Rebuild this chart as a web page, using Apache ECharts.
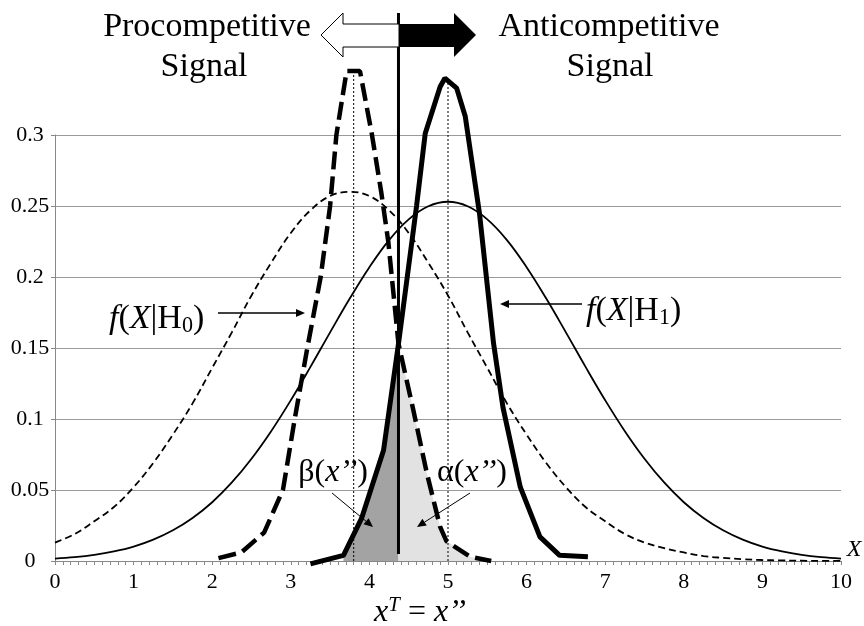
<!DOCTYPE html>
<html>
<head>
<meta charset="utf-8">
<script src="https://cdn.jsdelivr.net/npm/echarts@6/dist/echarts.min.js"></script>
<style>
html, body { margin: 0; padding: 0; background: #fff; }
#chart { width: 864px; height: 626px; }
</style>
</head>
<body>
<div id="chart"></div>
<script>
// tick labels
var yTickLabels = ['0', '0.05', '0.1', '0.15', '0.2', '0.25', '0.3'];
var xTickLabels = ['0', '1', '2', '3', '4', '5', '6', '7', '8', '9', '10'];

// wide curves (thin), sampled every 0.25
var wideX = [0, 0.25, 0.5, 0.75, 1, 1.25, 1.5, 1.75, 2, 2.25, 2.5, 2.75, 3, 3.25, 3.5, 3.75, 4, 4.25, 4.5, 4.75,
             5, 5.25, 5.5, 5.75, 6, 6.25, 6.5, 6.75, 7, 7.25, 7.5, 7.75, 8, 8.25, 8.5, 8.75, 9, 9.25, 9.5, 9.75, 10];
var wideH0 = [0.013, 0.019, 0.028, 0.038, 0.052, 0.069, 0.089, 0.111, 0.136, 0.161, 0.187, 0.210, 0.231, 0.247, 0.257, 0.260,
              0.257, 0.247, 0.231, 0.210, 0.187, 0.161, 0.136, 0.111, 0.089, 0.069, 0.052, 0.038, 0.028, 0.019, 0.013,
              0.009, 0.006, 0.0035, 0.0022, 0.0013, 0.0007, 0.0004, 0.0002, 0.0001, 0.0001];
var wideH1 = [0.0017, 0.0027, 0.0043, 0.0067, 0.0101, 0.015, 0.0216, 0.0303, 0.0414, 0.0553, 0.072, 0.0914, 0.1132, 0.1367,
              0.161, 0.1848, 0.2069, 0.226, 0.2406, 0.2498, 0.253, 0.2498, 0.2406, 0.226, 0.2069, 0.1848, 0.161, 0.1367,
              0.1132, 0.0914, 0.072, 0.0553, 0.0414, 0.0303, 0.0216, 0.015, 0.0101, 0.0067, 0.0043, 0.0027, 0.0017];

// narrow curves (thick), [x, y]
var narrowH0 = [[2.08, 0.002], [2.37, 0.006], [2.66, 0.02], [2.9, 0.05], [3.05, 0.1], [3.21, 0.15], [3.38, 0.2],
                [3.5, 0.25], [3.58, 0.3], [3.71, 0.345], [3.88, 0.345], [4.03, 0.301], [4.15, 0.26], [4.24, 0.225],
                [4.37, 0.153], [4.56, 0.106], [4.73, 0.062], [4.9, 0.024], [4.98, 0.014], [5.28, 0.003], [5.55, 0]];
var narrowH1 = [[3.25, -0.002], [3.67, 0.004], [3.9, 0.03], [4.18, 0.078], [4.37, 0.153], [4.6, 0.25], [4.71, 0.301],
                [4.9, 0.334], [4.96, 0.34], [5.11, 0.333], [5.22, 0.313], [5.4, 0.245], [5.58, 0.153], [5.7, 0.108],
                [5.92, 0.052], [6.17, 0.017], [6.42, 0.004], [6.78, 0.003]];

// threshold x^T and the dotted drop lines at the two peaks
var threshold = 4.37;
var thresholdSpan = [0.005, 0.386];
var dropX = [3.8, 5.0];
var dropTop = [0.345, 0.34];

var FONT = 'Liberation Serif';

function pairs(xs, ys) {
    var out = [];
    for (var i = 0; i < xs.length; i++) out.push([xs[i], ys[i]]);
    return out;
}

// β: under H1 narrow left of threshold, α: under H0 narrow right of threshold
var betaArea = narrowH1.filter(function(p) { return p[0] >= 3.67 && p[0] <= threshold; });
var alphaArea = narrowH0.filter(function(p) { return p[0] >= threshold; });

function arrow(x1, y1, x2, y2, w, hl, hw) {
    var dx = x2 - x1, dy = y2 - y1;
    var len = Math.sqrt(dx * dx + dy * dy);
    var ux = dx / len, uy = dy / len;
    var bx = x2 - ux * hl, by = y2 - uy * hl;
    return [
        { type: 'line', z: 100, shape: { x1: x1, y1: y1, x2: bx, y2: by }, style: { stroke: '#000', lineWidth: w } },
        { type: 'polygon', z: 100, shape: { points: [[x2, y2], [bx - uy * hw, by + ux * hw], [bx + uy * hw, by - ux * hw]] },
          style: { fill: '#000' } }
    ];
}

function label(x, y, text, size, align) {
    return {
        type: 'text', x: x, y: y, z: 100,
        style: {
            text: text, fontFamily: FONT, fontSize: size, fill: '#000',
            align: align || 'center', verticalAlign: 'middle',
            rich: {
                i: { fontFamily: FONT, fontSize: size, fontStyle: 'italic', lineHeight: 36 },
                n: { fontFamily: FONT, fontSize: size, lineHeight: 36 },
                sub: { fontFamily: FONT, fontSize: size * 0.65, lineHeight: 22, verticalAlign: 'bottom' },
                sup: { fontFamily: FONT, fontSize: size * 0.65, fontStyle: 'italic', lineHeight: 22, verticalAlign: 'top' }
            }
        }
    };
}

var graphics = [];

// big arrows at the top
graphics.push({
    type: 'polygon', z: 100,
    shape: { points: [[399, 24], [343, 24], [343, 13], [321, 35], [343, 57], [343, 47], [399, 47]] },
    style: { fill: '#fff', stroke: '#000', lineWidth: 1 }
});
graphics.push({
    type: 'polygon', z: 100,
    shape: { points: [[399, 24], [454, 24], [454, 13], [476, 35], [454, 57], [454, 47], [399, 47]] },
    style: { fill: '#000' }
});

graphics.push(label(207, 27, 'Procompetitive', 34));
graphics.push(label(204, 67, 'Signal', 34));
graphics.push(label(609, 27, 'Anticompetitive', 34));
graphics.push(label(610, 67, 'Signal', 34));

graphics.push(label(109, 319, '{i|f}{n|(}{i|X}{n||H}{sub|0}{n|)}', 34, 'left'));
graphics = graphics.concat(arrow(218, 313, 305, 313, 1.5, 9, 4));
graphics.push(label(586, 311, '{i|f}{n|(}{i|X}{n||H}{sub|1}{n|)}', 34, 'left'));
graphics = graphics.concat(arrow(582, 304, 500, 304, 1.5, 9, 4));

graphics.push(label(333, 473, '{n|β(}{i|x’’}{n|)}', 32));
graphics = graphics.concat(arrow(332, 493, 373, 527, 1, 9, 4));
graphics.push(label(472, 473, '{n|α(}{i|x’’}{n|)}', 32));
graphics = graphics.concat(arrow(470, 493, 417, 527, 1, 9, 4));

graphics.push(label(854, 550, '{i|X}', 24));
graphics.push(label(420, 613, '{i|x}{sup|T}{n| = }{i|x’’}', 32));

var chart = echarts.init(document.getElementById('chart'));

var option = {
    animation: false,
    backgroundColor: '#fff',
    textStyle: { fontFamily: FONT },
    grid: { left: 55, right: 23, top: 135, bottom: 65 },
    xAxis: {
        type: 'value', min: 0, max: 10, interval: 1,
        axisLine: { show: true, onZero: false, lineStyle: { color: '#888', width: 1 } },
        axisTick: { show: true, length: 4, lineStyle: { color: '#888' } },
        minorTick: { show: true, splitNumber: 10, length: 4, lineStyle: { color: '#888' } },
        splitLine: { show: false },
        axisLabel: {
            fontSize: 22, color: '#000', margin: 10, fontFamily: FONT,
            formatter: function(v, i) { return xTickLabels[i]; }
        }
    },
    yAxis: {
        type: 'value', min: 0, max: 0.3, interval: 0.05,
        axisLine: { show: true, lineStyle: { color: '#888', width: 1 } },
        axisTick: { show: true, length: 4, lineStyle: { color: '#888' } },
        splitLine: { show: true, lineStyle: { color: '#9a9a9a', width: 1 } },
        axisLabel: {
            fontSize: 22, color: '#000', margin: 25, align: 'center', fontFamily: FONT,
            formatter: function(v, i) { return yTickLabels[i]; }
        }
    },
    series: [
        {
            name: 'beta', type: 'line', data: betaArea, showSymbol: false, clip: false, z: 1,
            lineStyle: { width: 0 }, areaStyle: { color: '#a3a3a3', opacity: 1 }
        },
        {
            name: 'alpha', type: 'line', data: alphaArea, showSymbol: false, clip: false, z: 1,
            lineStyle: { width: 0 }, areaStyle: { color: '#e2e2e2', opacity: 1 }
        },
        {
            name: 'drop1', type: 'line', data: [[dropX[0], 0], [dropX[0], dropTop[0]]], showSymbol: false, clip: false, z: 2,
            lineStyle: { color: '#000', width: 1, type: [2, 2] }
        },
        {
            name: 'drop2', type: 'line', data: [[dropX[1], 0], [dropX[1], dropTop[1]]], showSymbol: false, clip: false, z: 2,
            lineStyle: { color: '#000', width: 1, type: [2, 2] }
        },
        {
            name: 'f(X|H0) wide', type: 'line', data: pairs(wideX, wideH0), showSymbol: false, smooth: 0.4, z: 3,
            lineStyle: { color: '#000', width: 1.8, type: [7, 4] }
        },
        {
            name: 'f(X|H1) wide', type: 'line', data: pairs(wideX, wideH1), showSymbol: false, smooth: 0.4, z: 3,
            lineStyle: { color: '#000', width: 1.8 }
        },
        {
            name: 'f(X|H0)', type: 'line', data: narrowH0, showSymbol: false, clip: false, z: 4,
            lineStyle: { color: '#000', width: 4.5, type: [18, 7] }
        },
        {
            name: 'f(X|H1)', type: 'line', data: narrowH1, showSymbol: false, clip: false, z: 4,
            lineStyle: { color: '#000', width: 5 }
        },
        {
            name: 'threshold', type: 'line', data: [[threshold, thresholdSpan[0]], [threshold, thresholdSpan[1]]],
            showSymbol: false, clip: false, z: 5,
            lineStyle: { color: '#000', width: 3 }
        }
    ],
    graphic: graphics
};

chart.setOption(option);
</script>
</body>
</html>
